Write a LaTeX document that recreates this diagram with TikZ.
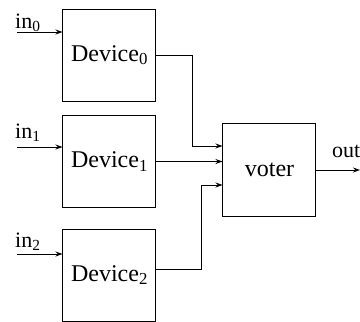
\documentclass[tikz,border=0pt]{standalone}
\usepackage{fontspec}
\setmainfont{Liberation Serif}
\usetikzlibrary{arrows.meta}
\begin{document}
\begin{tikzpicture}[x=1pt,y=-1pt,
  block/.style={draw, line width=1pt, minimum width=93pt, minimum height=92pt,
    inner sep=0pt, font=\fontsize{24}{28}\selectfont},
  wire/.style={line width=1pt, -{Stealth[length=7pt,width=5pt]}},
  lbl/.style={anchor=base west, inner sep=0pt, font=\fontsize{22}{26}\selectfont}]
\useasboundingbox (0,0) rectangle (360,322);

% redundant devices and the voter
\node[block] (d0) at (109.5,55) {\raisebox{-3pt}{Device\textsubscript{0}}};
\node[block] (d1) at (109.5,161.5) {\raisebox{-3pt}{Device\textsubscript{1}}};
\node[block] (d2) at (109.5,275) {\raisebox{-3pt}{Device\textsubscript{2}}};
\node[block, minimum height=93pt] (v) at (269.5,169.5) {voter};

% inputs
\coordinate (i0) at (17,32);
\coordinate (i1) at (17,147);
\coordinate (i2) at (17,254);
\node[lbl] (l0) at (15,28) {in\textsubscript{0}};
\node[lbl] (l1) at (15,138) {in\textsubscript{1}};
\node[lbl] (l2) at (15,247) {in\textsubscript{2}};
\draw[wire] (i0) -- (i0 -| d0.west);
\draw[wire] (i1) -- (i1 -| d1.west);
\draw[wire] (i2) -- (i2 -| d2.west);

% device outputs into the voter
\coordinate (j0) at (193,146);
\coordinate (j2) at (202,185);
\draw[wire] (d0.east) -| (j0) -- (j0 -| v.west);
\draw[wire] (d1.east) -- (d1.east -| v.west);
\draw[wire] ([yshift=6pt]d2.east) -| (j2) -- (j2 -| v.west);

% output
\coordinate (o) at (360,170);
\node[lbl] (lo) at (332,157) {out};
\draw[wire] (v.east |- o) -- (o);
\end{tikzpicture}
\end{document}
